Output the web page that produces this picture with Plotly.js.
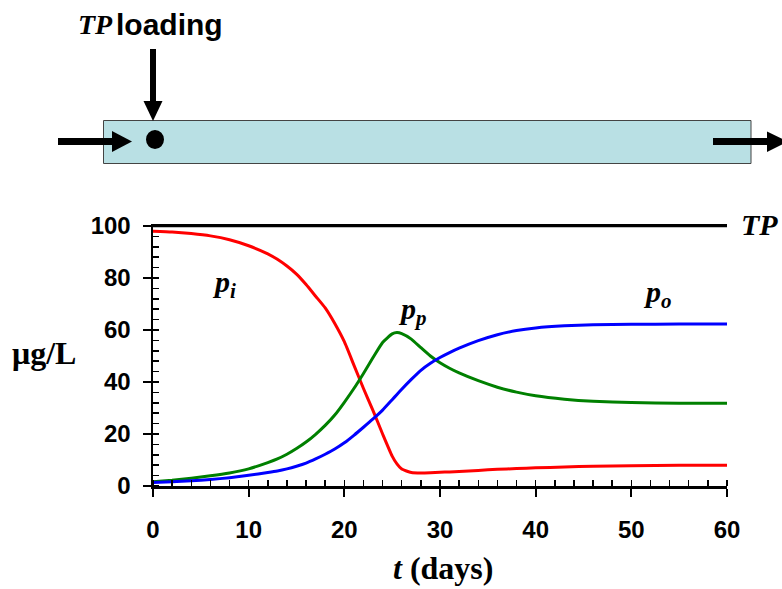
<!DOCTYPE html>
<html>
<head>
<meta charset="utf-8">
<script src="https://cdn.plot.ly/plotly-3.0.1.min.js"></script>
<style>html,body{margin:0;padding:0;background:#fff;}#chart{width:782px;height:589px;}</style>
</head>
<body>
<div id="chart"></div>
<script>
// ---- data ----
const tDays = [0,2,4,6,8,10,12,13,14,15,16,17,18,19,20,21,22,23,24,25,25.5,26,27,28,29,30,31,32,34,36,38,40,43,46,50,55,60];
const pI = [98,97.7,97.1,96.2,94.7,92.4,89.3,87.2,84.6,81.5,77.5,73,68.5,62.5,55.5,46.5,37.5,29,20,11.5,8.5,6.5,5.2,5,5.1,5.3,5.4,5.6,6,6.4,6.7,7,7.3,7.6,7.8,8,8];
const pP = [1.6,2.2,3,3.9,5,6.6,9,10.4,12.2,14.4,16.9,19.9,23.3,27.3,32.2,37.5,43.3,49.4,55.2,58.5,59,58.6,56.5,53.2,50,47.4,45.3,43.5,40.5,38,36.1,34.7,33.4,32.6,32.1,31.8,31.8];
const pO = [1.3,1.6,2,2.5,3.2,4.1,5.2,5.8,6.6,7.6,8.8,10.4,12.2,14.2,16.6,19.5,22.6,25.8,29.2,33.2,35.2,37.2,41,44.5,47.2,49.4,51.3,53,55.9,58.2,59.8,60.8,61.6,62,62.2,62.3,62.3];
const tpT = [0,60];
const tpV = [100,100];
const xTicks = [0,10,20,30,40,50,60];
const yTicks = [0,20,40,60,80,100];

// ---- layout helpers (pixel -> paper) ----
const ML=153, MR=55, MT=226, MB=103, PW=782-ML-MR, PH=589-MT-MB;
const px = x => (x-ML)/PW;
const py = y => ((589-MB) - y)/PH;

const sans = 'Liberation Sans, Arial, sans-serif';
const serif = 'Liberation Serif, Times New Roman, serif';

const traces = [
  {x:tpT, y:tpV, mode:'lines', line:{color:'#000',width:2.5}, hoverinfo:'skip'},
  {x:tDays, y:pI, mode:'lines', line:{color:'#ff0000',width:3,shape:'spline',smoothing:0.5}},
  {x:tDays, y:pP, mode:'lines', line:{color:'#008000',width:3,shape:'spline',smoothing:0.5}},
  {x:tDays, y:pO, mode:'lines', line:{color:'#0000ff',width:3,shape:'spline',smoothing:0.5}}
];

function path(pts){
  return 'M ' + pts.map(p => px(p[0]) + ' ' + py(p[1])).join(' L ') + ' Z';
}

const shapes = [
  {type:'rect', xref:'paper', yref:'paper', x0:px(103.5), x1:px(751), y0:py(120.5), y1:py(163.5),
   fillcolor:'#b9e0e4', line:{color:'#444', width:1}, layer:'above'},
  // inflow arrow
  {type:'line', xref:'paper', yref:'paper', x0:px(58), x1:px(114), y0:py(141.5), y1:py(141.5), line:{color:'#000',width:7}},
  {type:'path', xref:'paper', yref:'paper', path:path([[112,131],[112,152],[132,141.5]]), fillcolor:'#000', line:{width:0}},
  // loading arrow
  {type:'line', xref:'paper', yref:'paper', x0:px(153), x1:px(153), y0:py(49), y1:py(103), line:{color:'#000',width:6}},
  {type:'path', xref:'paper', yref:'paper', path:path([[143.5,101],[162.5,101],[153,121]]), fillcolor:'#000', line:{width:0}},
  // loading point
  {type:'circle', xref:'paper', yref:'paper', x0:px(146), x1:px(164), y0:py(130), y1:py(149), fillcolor:'#000', line:{width:0}},
  // outflow arrow
  {type:'line', xref:'paper', yref:'paper', x0:px(713), x1:px(769), y0:py(141.5), y1:py(141.5), line:{color:'#000',width:7}},
  {type:'path', xref:'paper', yref:'paper', path:path([[767,131.5],[767,152],[788,141.5]]), fillcolor:'#000', line:{width:0}}
];

function ann(text, x, y, font, xanchor){
  return {text:text, xref:'paper', yref:'paper', x:px(x), y:py(y), xanchor:xanchor||'left', yanchor:'middle',
          showarrow:false, font:font};
}
const annotations = [
  ann('TP', 76, 24, {family:serif, size:28, style:'italic', weight:700, color:'#000'}),
  ann('loading', 114, 24, {family:sans, size:30, weight:700, color:'#000'}),
  ann('TP', 739, 224, {family:serif, size:30, style:'italic', weight:700, color:'#000'}),
  ann('p<sub>i</sub>', 210, 284, {family:serif, size:30, style:'italic', weight:700, color:'#000'}),
  ann('p<sub>p</sub>', 396, 311, {family:serif, size:30, style:'italic', weight:700, color:'#000'}),
  ann('p<sub>o</sub>', 641, 294, {family:serif, size:30, style:'italic', weight:700, color:'#000'}),
  ann('μg/L', 10, 353, {family:serif, size:32, weight:700, color:'#000'}),
  ann('<i>t</i> (days)', 443, 568, {family:serif, size:32, weight:700, color:'#000'}, 'center')
];

const layout = {
  width:782, height:589,
  margin:{l:ML, r:MR, t:MT, b:MB, pad:0},
  paper_bgcolor:'#fff', plot_bgcolor:'#fff',
  showlegend:false,
  xaxis:{range:[0,60], tickvals:xTicks, ticktext:xTicks.map(String), showgrid:false, zeroline:false,
         showline:true, linecolor:'#000', linewidth:2.5, mirror:true,
         ticks:'outside', ticklen:8, tickwidth:2, tickcolor:'#000', ticklabelstandoff:13,
         minor:{ticks:'inside', dtick:2, tick0:0, ticklen:6, tickwidth:1.5, tickcolor:'#000', showgrid:false},
         tickfont:{family:sans, size:24, weight:700, color:'#000'}, fixedrange:true},
  yaxis:{range:[0,100], tickvals:yTicks, ticktext:yTicks.map(String), showgrid:false, zeroline:false,
         showline:true, linecolor:'#000', linewidth:2.5,
         ticks:'outside', ticklen:8, tickwidth:2, tickcolor:'#000', ticklabelstandoff:7,
         minor:{ticks:'inside', dtick:4, tick0:0, ticklen:6, tickwidth:1.5, tickcolor:'#000', showgrid:false},
         tickfont:{family:sans, size:24, weight:700, color:'#000'}, fixedrange:true},
  shapes:shapes,
  annotations:annotations
};

Plotly.newPlot('chart', traces, layout, {displayModeBar:false, staticPlot:true});
</script>
</body>
</html>
